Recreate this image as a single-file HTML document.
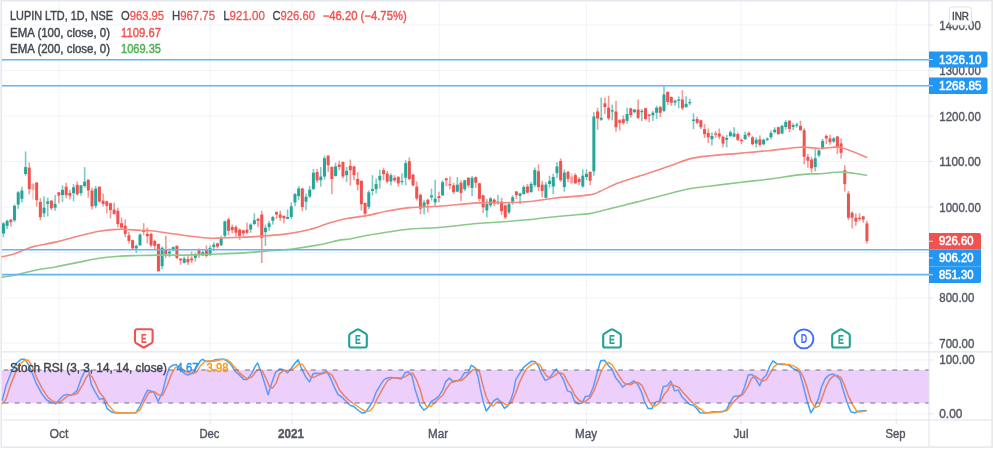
<!DOCTYPE html>
<html><head><meta charset="utf-8"><title>LUPIN LTD chart</title>
<style>
html,body{margin:0;padding:0;background:#fff;}
svg{display:block;will-change:transform;font-family:"Liberation Sans",sans-serif;}
text{font-family:"Liberation Sans",sans-serif;}
</style></head><body>
<svg width="995" height="452" viewBox="0 0 995 452">
<defs><filter id="soft" filterUnits="userSpaceOnUse" x="-5" y="-5" width="1005" height="462"><feGaussianBlur stdDeviation="0.42"/></filter></defs>
<rect x="0" y="0" width="995" height="452" fill="#ffffff"/>
<g filter="url(#soft)">
<rect x="-5" y="-5" width="1005" height="462" fill="#ffffff"/>

<rect x="1.2" y="0.8" width="990.9" height="446.3" fill="none" stroke="#e4e7ef" stroke-width="1.5"/>
<line x1="59.0" y1="1" x2="59.0" y2="420" stroke="#f1f3fa" stroke-width="1"/>
<line x1="59.0" y1="420" x2="59.0" y2="424" stroke="#e0e3eb" stroke-width="1"/>
<line x1="210.0" y1="1" x2="210.0" y2="420" stroke="#f1f3fa" stroke-width="1"/>
<line x1="210.0" y1="420" x2="210.0" y2="424" stroke="#e0e3eb" stroke-width="1"/>
<line x1="292.0" y1="1" x2="292.0" y2="420" stroke="#f1f3fa" stroke-width="1"/>
<line x1="292.0" y1="420" x2="292.0" y2="424" stroke="#e0e3eb" stroke-width="1"/>
<line x1="439.2" y1="1" x2="439.2" y2="420" stroke="#f1f3fa" stroke-width="1"/>
<line x1="439.2" y1="420" x2="439.2" y2="424" stroke="#e0e3eb" stroke-width="1"/>
<line x1="586.5" y1="1" x2="586.5" y2="420" stroke="#f1f3fa" stroke-width="1"/>
<line x1="586.5" y1="420" x2="586.5" y2="424" stroke="#e0e3eb" stroke-width="1"/>
<line x1="741.1" y1="1" x2="741.1" y2="420" stroke="#f1f3fa" stroke-width="1"/>
<line x1="741.1" y1="420" x2="741.1" y2="424" stroke="#e0e3eb" stroke-width="1"/>
<line x1="896.2" y1="1" x2="896.2" y2="420" stroke="#f1f3fa" stroke-width="1"/>
<line x1="896.2" y1="420" x2="896.2" y2="424" stroke="#e0e3eb" stroke-width="1"/>
<line x1="2" y1="25.0" x2="929" y2="25.0" stroke="#f1f3fa" stroke-width="1"/>
<line x1="929" y1="25.0" x2="933" y2="25.0" stroke="#e0e3eb" stroke-width="1"/>
<line x1="2" y1="70.5" x2="929" y2="70.5" stroke="#f1f3fa" stroke-width="1"/>
<line x1="929" y1="70.5" x2="933" y2="70.5" stroke="#e0e3eb" stroke-width="1"/>
<line x1="2" y1="116.0" x2="929" y2="116.0" stroke="#f1f3fa" stroke-width="1"/>
<line x1="929" y1="116.0" x2="933" y2="116.0" stroke="#e0e3eb" stroke-width="1"/>
<line x1="2" y1="161.5" x2="929" y2="161.5" stroke="#f1f3fa" stroke-width="1"/>
<line x1="929" y1="161.5" x2="933" y2="161.5" stroke="#e0e3eb" stroke-width="1"/>
<line x1="2" y1="207.0" x2="929" y2="207.0" stroke="#f1f3fa" stroke-width="1"/>
<line x1="929" y1="207.0" x2="933" y2="207.0" stroke="#e0e3eb" stroke-width="1"/>
<line x1="2" y1="252.5" x2="929" y2="252.5" stroke="#f1f3fa" stroke-width="1"/>
<line x1="929" y1="252.5" x2="933" y2="252.5" stroke="#e0e3eb" stroke-width="1"/>
<line x1="2" y1="298.0" x2="929" y2="298.0" stroke="#f1f3fa" stroke-width="1"/>
<line x1="929" y1="298.0" x2="933" y2="298.0" stroke="#e0e3eb" stroke-width="1"/>
<line x1="2" y1="343.0" x2="929" y2="343.0" stroke="#f1f3fa" stroke-width="1"/>
<line x1="929" y1="343.0" x2="933" y2="343.0" stroke="#e0e3eb" stroke-width="1"/>
<line x1="2" y1="359.90000000000003" x2="929" y2="359.90000000000003" stroke="#f1f3fa" stroke-width="1"/>
<line x1="929" y1="359.90000000000003" x2="933" y2="359.90000000000003" stroke="#e0e3eb" stroke-width="1"/>
<line x1="2" y1="413.90000000000003" x2="929" y2="413.90000000000003" stroke="#f1f3fa" stroke-width="1"/>
<line x1="929" y1="413.90000000000003" x2="933" y2="413.90000000000003" stroke="#e0e3eb" stroke-width="1"/>
<defs><clipPath id="cin"><rect x="0" y="370" width="995" height="33"/></clipPath><clipPath id="cout"><rect x="0" y="352" width="995" height="18"/><rect x="0" y="403" width="995" height="20"/></clipPath></defs>
<g clip-path="url(#cout)"><path d="M2.3,400.0 L6.0,385.7 L11.3,372.1 L16.6,363.0 L21.1,359.3 L24.9,359.3 L28.6,364.6 L32.4,373.6 L36.2,383.4 L41.5,393.2 L46.7,400.0 L51.3,402.2 L55.8,403.8 L59.6,399.2 L63.3,395.5 L67.1,394.4 L70.9,395.5 L76.9,390.9 L81.4,378.1 L85.2,370.6 L88.9,371.3 L91.2,384.2 L95.0,391.7 L99.5,399.2 L103.3,398.5 L107.0,408.3 L111.6,412.0 L116.1,413.1 L135.7,412.8 L138.7,408.3 L140.0,406.0 L143.8,397.7 L147.5,390.2 L153.6,391.7 L158.1,401.5 L162.6,391.7 L166.4,376.6 L169.4,367.6 L172.4,365.3 L176.2,364.6 L180.0,369.1 L183.7,372.8 L187.5,375.1 L192.0,373.6 L196.5,367.6 L200.3,360.8 L202.6,359.3 L206.3,361.5 L210.9,361.5 L215.4,359.7 L219.9,359.3 L224.4,359.3 L228.9,362.3 L232.0,366.1 L235.0,371.3 L239.5,375.1 L244.0,379.6 L247.0,379.6 L251.6,373.6 L255.3,366.1 L257.6,363.0 L260.6,370.6 L264.4,382.6 L268.1,394.7 L271.9,382.6 L275.7,372.1 L279.5,369.1 L280.0,369.1 L283.8,369.8 L287.5,372.8 L291.3,368.3 L295.1,363.0 L298.1,359.7 L301.1,367.6 L305.6,376.6 L309.4,381.9 L313.2,373.6 L316.9,373.3 L320.7,373.6 L326.7,371.3 L330.5,378.1 L334.3,387.2 L338.0,394.7 L341.8,397.0 L346.3,401.5 L350.1,405.3 L353.9,406.5 L358.4,410.5 L362.2,413.1 L365.2,412.5 L368.9,407.5 L372.7,401.5 L375.7,393.2 L379.5,386.4 L384.0,379.6 L387.8,377.8 L391.6,377.4 L396.1,378.1 L401.4,378.9 L405.1,372.8 L408.1,371.8 L411.9,375.9 L414.9,388.7 L418.7,400.7 L420.0,405.3 L423.8,410.1 L427.5,407.5 L431.3,401.5 L435.1,399.2 L438.8,396.2 L442.6,390.2 L445.6,381.9 L449.4,378.1 L453.2,381.9 L456.9,381.1 L460.7,378.9 L464.5,372.8 L468.2,372.8 L471.3,365.3 L475.0,367.6 L478.0,376.6 L480.3,388.7 L483.3,402.2 L486.3,411.0 L490.1,406.0 L493.9,400.7 L497.6,398.5 L500.7,402.2 L504.4,408.3 L508.2,405.3 L510.5,400.7 L513.5,391.7 L515.7,379.6 L519.5,373.6 L523.3,367.6 L527.0,364.6 L531.6,361.2 L535.3,361.8 L538.3,366.1 L541.4,373.6 L545.1,380.4 L548.9,378.9 L552.7,373.6 L556.4,369.1 L559.5,373.6 L560.0,373.6 L563.8,380.4 L567.5,390.9 L571.3,392.4 L574.3,400.7 L578.1,403.8 L581.9,403.0 L585.6,396.2 L589.4,396.2 L593.2,387.2 L596.9,373.6 L600.7,360.8 L604.5,360.3 L608.2,365.3 L612.0,369.1 L615.8,378.1 L619.6,382.6 L622.6,387.2 L626.3,384.2 L630.1,383.4 L633.9,380.8 L637.6,384.2 L641.4,391.7 L644.4,401.5 L648.2,408.6 L652.0,408.6 L655.7,401.9 L659.5,401.0 L663.3,386.4 L667.0,386.0 L670.8,381.1 L674.6,390.9 L678.3,389.9 L682.1,397.0 L685.9,400.7 L689.7,404.5 L693.4,405.3 L697.2,409.0 L700.0,412.8 L704.5,413.1 L709.0,412.5 L713.6,411.7 L718.1,411.7 L722.6,411.6 L726.4,409.8 L730.2,402.2 L733.9,396.2 L737.7,396.2 L741.5,394.7 L744.5,387.2 L748.2,375.1 L752.0,374.4 L755.8,378.9 L759.6,385.7 L762.6,378.9 L766.3,375.1 L770.1,365.3 L773.1,360.8 L776.9,363.8 L780.7,364.6 L784.4,364.6 L788.2,364.9 L792.0,367.6 L795.7,369.8 L799.5,372.1 L803.3,385.7 L807.0,400.7 L810.8,412.8 L814.6,406.8 L818.3,399.2 L821.4,387.2 L825.1,378.9 L828.9,375.1 L832.7,373.9 L836.4,375.9 L840.2,379.6 L843.2,390.2 L847.0,402.2 L850.0,409.8 L851.1,412.0 L854.8,412.8 L858.6,411.3 L862.4,410.7 L866.1,410.5" fill="none" stroke="#3ba2fa" stroke-width="1.5" stroke-linejoin="round" stroke-linecap="round" opacity="1"/><path d="M2.3,403.8 L6.0,399.2 L10.6,384.9 L15.1,373.6 L20.4,363.8 L24.9,360.0 L28.6,360.3 L32.4,366.8 L36.2,376.6 L42.2,388.7 L48.2,397.7 L53.5,401.5 L58.0,403.0 L61.8,400.7 L65.6,397.7 L69.4,395.0 L73.9,394.7 L77.6,393.2 L82.2,385.7 L86.7,376.6 L88.9,374.4 L92.0,376.6 L96.5,385.7 L99.5,392.4 L104.0,397.7 L108.5,405.3 L114.6,412.0 L120.6,413.1 L135.7,412.8 L139.5,410.1 L140.0,409.8 L144.5,400.7 L149.0,392.4 L154.3,391.7 L158.1,394.7 L162.6,395.5 L167.1,385.7 L171.7,373.6 L175.4,367.6 L179.2,366.8 L183.7,369.8 L188.2,372.8 L192.8,373.6 L196.5,372.1 L200.3,366.1 L204.8,361.5 L209.4,360.8 L213.9,361.2 L218.4,360.3 L222.9,359.3 L226.7,359.7 L230.5,362.3 L234.2,366.8 L238.7,372.1 L244.0,376.6 L247.8,378.9 L252.3,376.6 L256.1,371.3 L259.1,369.1 L262.1,370.6 L266.6,379.6 L269.7,387.2 L272.7,387.9 L276.4,382.6 L279.5,373.6 L280.0,373.6 L283.8,370.3 L287.5,370.6 L291.3,369.8 L295.1,367.6 L298.8,363.8 L302.6,364.6 L306.4,370.6 L310.2,376.6 L313.9,377.4 L318.4,375.1 L323.0,373.6 L327.5,372.4 L332.0,375.1 L335.8,381.9 L339.6,390.2 L344.1,395.5 L348.6,400.0 L352.4,403.0 L356.9,406.0 L361.4,409.0 L365.9,411.6 L369.7,411.0 L373.5,406.8 L376.5,400.0 L380.3,393.2 L384.0,386.4 L387.8,380.4 L392.3,378.1 L396.8,377.8 L401.4,378.1 L405.1,376.9 L409.7,373.6 L412.7,373.3 L416.4,379.6 L419.5,387.9 L420.0,388.7 L423.0,400.7 L426.8,406.8 L431.3,406.0 L435.1,402.2 L438.8,398.5 L442.6,395.5 L446.4,388.7 L450.2,383.4 L453.9,380.8 L457.7,380.8 L461.5,380.4 L465.2,377.4 L469.0,373.6 L472.8,369.8 L476.5,369.1 L479.6,372.1 L482.6,384.2 L486.3,397.0 L490.1,404.5 L493.1,406.0 L496.9,402.2 L500.7,401.5 L504.4,403.8 L508.2,405.3 L512.0,401.5 L515.7,393.2 L519.5,382.6 L523.3,374.4 L527.0,368.3 L531.6,364.6 L536.1,363.0 L539.9,364.6 L542.9,370.6 L546.6,375.9 L550.4,378.1 L554.2,375.9 L557.9,372.8 L560.0,372.8 L563.8,374.4 L567.5,381.9 L571.3,387.9 L575.1,395.5 L578.8,400.0 L582.6,402.5 L586.4,400.7 L590.2,397.7 L593.9,390.9 L597.7,381.1 L601.5,370.6 L605.2,364.6 L608.2,362.3 L612.0,364.6 L615.8,370.6 L619.6,376.6 L623.3,382.3 L627.1,384.6 L630.9,384.6 L634.6,382.6 L638.4,382.6 L642.2,385.7 L645.9,394.0 L649.7,402.2 L652.7,406.5 L656.5,405.3 L660.3,402.2 L664.0,394.7 L667.8,390.2 L670.8,384.2 L674.6,385.7 L679.1,387.5 L682.9,392.4 L686.6,396.2 L691.2,401.5 L695.7,405.3 L699.5,409.0 L700.0,408.3 L703.8,412.0 L708.3,413.1 L712.8,412.5 L717.3,412.0 L722.6,411.7 L727.1,410.5 L730.9,405.3 L734.7,400.7 L738.4,397.4 L743.0,394.4 L747.5,387.2 L751.3,378.9 L755.0,375.9 L758.8,378.9 L762.6,381.1 L766.3,379.6 L770.1,373.6 L773.9,366.8 L777.6,363.8 L781.4,363.8 L785.9,364.3 L789.7,364.6 L794.2,366.1 L798.7,369.1 L803.3,376.6 L807.0,387.2 L810.8,400.7 L815.3,407.5 L819.1,406.0 L822.1,397.7 L825.9,387.2 L829.7,379.6 L833.4,375.9 L837.2,375.4 L841.0,377.4 L844.7,385.7 L848.5,396.2 L852.6,404.5 L856.3,410.5 L858.6,412.0 L862.4,411.6 L866.1,411.0" fill="none" stroke="#ff9932" stroke-width="1.5" stroke-linejoin="round" stroke-linecap="round" opacity="1"/></g>
<rect x="2" y="370" width="927" height="33" fill="#ecd0fb"/>
<g clip-path="url(#cin)"><path d="M2.3,400.0 L6.0,385.7 L11.3,372.1 L16.6,363.0 L21.1,359.3 L24.9,359.3 L28.6,364.6 L32.4,373.6 L36.2,383.4 L41.5,393.2 L46.7,400.0 L51.3,402.2 L55.8,403.8 L59.6,399.2 L63.3,395.5 L67.1,394.4 L70.9,395.5 L76.9,390.9 L81.4,378.1 L85.2,370.6 L88.9,371.3 L91.2,384.2 L95.0,391.7 L99.5,399.2 L103.3,398.5 L107.0,408.3 L111.6,412.0 L116.1,413.1 L135.7,412.8 L138.7,408.3 L140.0,406.0 L143.8,397.7 L147.5,390.2 L153.6,391.7 L158.1,401.5 L162.6,391.7 L166.4,376.6 L169.4,367.6 L172.4,365.3 L176.2,364.6 L180.0,369.1 L183.7,372.8 L187.5,375.1 L192.0,373.6 L196.5,367.6 L200.3,360.8 L202.6,359.3 L206.3,361.5 L210.9,361.5 L215.4,359.7 L219.9,359.3 L224.4,359.3 L228.9,362.3 L232.0,366.1 L235.0,371.3 L239.5,375.1 L244.0,379.6 L247.0,379.6 L251.6,373.6 L255.3,366.1 L257.6,363.0 L260.6,370.6 L264.4,382.6 L268.1,394.7 L271.9,382.6 L275.7,372.1 L279.5,369.1 L280.0,369.1 L283.8,369.8 L287.5,372.8 L291.3,368.3 L295.1,363.0 L298.1,359.7 L301.1,367.6 L305.6,376.6 L309.4,381.9 L313.2,373.6 L316.9,373.3 L320.7,373.6 L326.7,371.3 L330.5,378.1 L334.3,387.2 L338.0,394.7 L341.8,397.0 L346.3,401.5 L350.1,405.3 L353.9,406.5 L358.4,410.5 L362.2,413.1 L365.2,412.5 L368.9,407.5 L372.7,401.5 L375.7,393.2 L379.5,386.4 L384.0,379.6 L387.8,377.8 L391.6,377.4 L396.1,378.1 L401.4,378.9 L405.1,372.8 L408.1,371.8 L411.9,375.9 L414.9,388.7 L418.7,400.7 L420.0,405.3 L423.8,410.1 L427.5,407.5 L431.3,401.5 L435.1,399.2 L438.8,396.2 L442.6,390.2 L445.6,381.9 L449.4,378.1 L453.2,381.9 L456.9,381.1 L460.7,378.9 L464.5,372.8 L468.2,372.8 L471.3,365.3 L475.0,367.6 L478.0,376.6 L480.3,388.7 L483.3,402.2 L486.3,411.0 L490.1,406.0 L493.9,400.7 L497.6,398.5 L500.7,402.2 L504.4,408.3 L508.2,405.3 L510.5,400.7 L513.5,391.7 L515.7,379.6 L519.5,373.6 L523.3,367.6 L527.0,364.6 L531.6,361.2 L535.3,361.8 L538.3,366.1 L541.4,373.6 L545.1,380.4 L548.9,378.9 L552.7,373.6 L556.4,369.1 L559.5,373.6 L560.0,373.6 L563.8,380.4 L567.5,390.9 L571.3,392.4 L574.3,400.7 L578.1,403.8 L581.9,403.0 L585.6,396.2 L589.4,396.2 L593.2,387.2 L596.9,373.6 L600.7,360.8 L604.5,360.3 L608.2,365.3 L612.0,369.1 L615.8,378.1 L619.6,382.6 L622.6,387.2 L626.3,384.2 L630.1,383.4 L633.9,380.8 L637.6,384.2 L641.4,391.7 L644.4,401.5 L648.2,408.6 L652.0,408.6 L655.7,401.9 L659.5,401.0 L663.3,386.4 L667.0,386.0 L670.8,381.1 L674.6,390.9 L678.3,389.9 L682.1,397.0 L685.9,400.7 L689.7,404.5 L693.4,405.3 L697.2,409.0 L700.0,412.8 L704.5,413.1 L709.0,412.5 L713.6,411.7 L718.1,411.7 L722.6,411.6 L726.4,409.8 L730.2,402.2 L733.9,396.2 L737.7,396.2 L741.5,394.7 L744.5,387.2 L748.2,375.1 L752.0,374.4 L755.8,378.9 L759.6,385.7 L762.6,378.9 L766.3,375.1 L770.1,365.3 L773.1,360.8 L776.9,363.8 L780.7,364.6 L784.4,364.6 L788.2,364.9 L792.0,367.6 L795.7,369.8 L799.5,372.1 L803.3,385.7 L807.0,400.7 L810.8,412.8 L814.6,406.8 L818.3,399.2 L821.4,387.2 L825.1,378.9 L828.9,375.1 L832.7,373.9 L836.4,375.9 L840.2,379.6 L843.2,390.2 L847.0,402.2 L850.0,409.8 L851.1,412.0 L854.8,412.8 L858.6,411.3 L862.4,410.7 L866.1,410.5" fill="none" stroke="#6397fb" stroke-width="1.5" stroke-linejoin="round" stroke-linecap="round" opacity="1"/><path d="M2.3,403.8 L6.0,399.2 L10.6,384.9 L15.1,373.6 L20.4,363.8 L24.9,360.0 L28.6,360.3 L32.4,366.8 L36.2,376.6 L42.2,388.7 L48.2,397.7 L53.5,401.5 L58.0,403.0 L61.8,400.7 L65.6,397.7 L69.4,395.0 L73.9,394.7 L77.6,393.2 L82.2,385.7 L86.7,376.6 L88.9,374.4 L92.0,376.6 L96.5,385.7 L99.5,392.4 L104.0,397.7 L108.5,405.3 L114.6,412.0 L120.6,413.1 L135.7,412.8 L139.5,410.1 L140.0,409.8 L144.5,400.7 L149.0,392.4 L154.3,391.7 L158.1,394.7 L162.6,395.5 L167.1,385.7 L171.7,373.6 L175.4,367.6 L179.2,366.8 L183.7,369.8 L188.2,372.8 L192.8,373.6 L196.5,372.1 L200.3,366.1 L204.8,361.5 L209.4,360.8 L213.9,361.2 L218.4,360.3 L222.9,359.3 L226.7,359.7 L230.5,362.3 L234.2,366.8 L238.7,372.1 L244.0,376.6 L247.8,378.9 L252.3,376.6 L256.1,371.3 L259.1,369.1 L262.1,370.6 L266.6,379.6 L269.7,387.2 L272.7,387.9 L276.4,382.6 L279.5,373.6 L280.0,373.6 L283.8,370.3 L287.5,370.6 L291.3,369.8 L295.1,367.6 L298.8,363.8 L302.6,364.6 L306.4,370.6 L310.2,376.6 L313.9,377.4 L318.4,375.1 L323.0,373.6 L327.5,372.4 L332.0,375.1 L335.8,381.9 L339.6,390.2 L344.1,395.5 L348.6,400.0 L352.4,403.0 L356.9,406.0 L361.4,409.0 L365.9,411.6 L369.7,411.0 L373.5,406.8 L376.5,400.0 L380.3,393.2 L384.0,386.4 L387.8,380.4 L392.3,378.1 L396.8,377.8 L401.4,378.1 L405.1,376.9 L409.7,373.6 L412.7,373.3 L416.4,379.6 L419.5,387.9 L420.0,388.7 L423.0,400.7 L426.8,406.8 L431.3,406.0 L435.1,402.2 L438.8,398.5 L442.6,395.5 L446.4,388.7 L450.2,383.4 L453.9,380.8 L457.7,380.8 L461.5,380.4 L465.2,377.4 L469.0,373.6 L472.8,369.8 L476.5,369.1 L479.6,372.1 L482.6,384.2 L486.3,397.0 L490.1,404.5 L493.1,406.0 L496.9,402.2 L500.7,401.5 L504.4,403.8 L508.2,405.3 L512.0,401.5 L515.7,393.2 L519.5,382.6 L523.3,374.4 L527.0,368.3 L531.6,364.6 L536.1,363.0 L539.9,364.6 L542.9,370.6 L546.6,375.9 L550.4,378.1 L554.2,375.9 L557.9,372.8 L560.0,372.8 L563.8,374.4 L567.5,381.9 L571.3,387.9 L575.1,395.5 L578.8,400.0 L582.6,402.5 L586.4,400.7 L590.2,397.7 L593.9,390.9 L597.7,381.1 L601.5,370.6 L605.2,364.6 L608.2,362.3 L612.0,364.6 L615.8,370.6 L619.6,376.6 L623.3,382.3 L627.1,384.6 L630.9,384.6 L634.6,382.6 L638.4,382.6 L642.2,385.7 L645.9,394.0 L649.7,402.2 L652.7,406.5 L656.5,405.3 L660.3,402.2 L664.0,394.7 L667.8,390.2 L670.8,384.2 L674.6,385.7 L679.1,387.5 L682.9,392.4 L686.6,396.2 L691.2,401.5 L695.7,405.3 L699.5,409.0 L700.0,408.3 L703.8,412.0 L708.3,413.1 L712.8,412.5 L717.3,412.0 L722.6,411.7 L727.1,410.5 L730.9,405.3 L734.7,400.7 L738.4,397.4 L743.0,394.4 L747.5,387.2 L751.3,378.9 L755.0,375.9 L758.8,378.9 L762.6,381.1 L766.3,379.6 L770.1,373.6 L773.9,366.8 L777.6,363.8 L781.4,363.8 L785.9,364.3 L789.7,364.6 L794.2,366.1 L798.7,369.1 L803.3,376.6 L807.0,387.2 L810.8,400.7 L815.3,407.5 L819.1,406.0 L822.1,397.7 L825.9,387.2 L829.7,379.6 L833.4,375.9 L837.2,375.4 L841.0,377.4 L844.7,385.7 L848.5,396.2 L852.6,404.5 L856.3,410.5 L858.6,412.0 L862.4,411.6 L866.1,411.0" fill="none" stroke="#e9806c" stroke-width="1.5" stroke-linejoin="round" stroke-linecap="round" opacity="1"/></g>
<line x1="3.7" y1="370" x2="929" y2="370" stroke="#6e717b" stroke-width="1.15" stroke-dasharray="4.9,6.07"/>
<line x1="3.7" y1="403" x2="929" y2="403" stroke="#6e717b" stroke-width="1.15" stroke-dasharray="4.9,6.07"/>
<g opacity="1"><rect x="2.65" y="222.2" width="1.6" height="15.1" fill="#26a69a" opacity="0.6"/><rect x="1.95" y="223.4" width="3" height="10.1" fill="#26a69a"/></g>
<g opacity="1"><rect x="6.34" y="219.6" width="1.6" height="9.5" fill="#26a69a" opacity="0.6"/><rect x="5.64" y="220.9" width="3" height="5.0" fill="#26a69a"/></g>
<g opacity="1"><rect x="10.03" y="219.0" width="1.6" height="7.6" fill="#ef5350" opacity="0.6"/><rect x="9.33" y="219.6" width="3" height="2.5" fill="#ef5350"/></g>
<g opacity="1"><rect x="13.72" y="204.5" width="1.6" height="17.7" fill="#26a69a" opacity="0.6"/><rect x="13.02" y="205.8" width="3" height="14.5" fill="#26a69a"/></g>
<g opacity="1"><rect x="17.41" y="191.1" width="1.6" height="17.8" fill="#26a69a" opacity="0.6"/><rect x="16.71" y="192.3" width="3" height="12.2" fill="#26a69a"/></g>
<g opacity="1"><rect x="21.10" y="186.7" width="1.6" height="15.9" fill="#26a69a" opacity="0.6"/><rect x="20.40" y="190.5" width="3" height="8.4" fill="#26a69a"/></g>
<g opacity="1"><rect x="24.79" y="151.4" width="1.6" height="24.2" fill="#26a69a" opacity="0.6"/><rect x="24.09" y="167.1" width="3" height="6.9" fill="#26a69a"/></g>
<g opacity="1"><rect x="28.48" y="162.5" width="1.6" height="31.8" fill="#ef5350" opacity="0.6"/><rect x="27.78" y="167.7" width="3" height="21.4" fill="#ef5350"/></g>
<g opacity="0.55"><rect x="32.17" y="182.9" width="1.6" height="16.6" fill="#ef5350" opacity="0.6"/><rect x="31.47" y="184.1" width="3" height="5.7" fill="#ef5350"/></g>
<g opacity="1"><rect x="35.86" y="182.3" width="1.6" height="24.1" fill="#ef5350" opacity="0.6"/><rect x="35.16" y="182.5" width="3" height="17.6" fill="#ef5350"/></g>
<g opacity="1"><rect x="39.55" y="198.2" width="1.6" height="22.1" fill="#ef5350" opacity="0.6"/><rect x="38.85" y="202.0" width="3" height="15.1" fill="#ef5350"/></g>
<g opacity="1"><rect x="43.24" y="196.3" width="1.6" height="20.8" fill="#26a69a" opacity="0.6"/><rect x="42.54" y="207.7" width="3" height="5.7" fill="#26a69a"/></g>
<g opacity="1"><rect x="46.93" y="197.6" width="1.6" height="18.9" fill="#26a69a" opacity="0.6"/><rect x="46.23" y="201.4" width="3" height="2.5" fill="#26a69a"/></g>
<g opacity="1"><rect x="50.62" y="200.1" width="1.6" height="10.1" fill="#ef5350" opacity="0.6"/><rect x="49.92" y="200.7" width="3" height="7.6" fill="#ef5350"/></g>
<g opacity="1"><rect x="54.31" y="195.0" width="1.6" height="15.8" fill="#26a69a" opacity="0.6"/><rect x="53.61" y="203.9" width="3" height="3.8" fill="#26a69a"/></g>
<g opacity="1"><rect x="58.00" y="192.0" width="1.6" height="11.3" fill="#ef5350" opacity="0.6"/><rect x="57.30" y="192.3" width="3" height="3.2" fill="#ef5350"/></g>
<g opacity="1"><rect x="61.69" y="185.4" width="1.6" height="16.6" fill="#26a69a" opacity="0.6"/><rect x="60.99" y="189.8" width="3" height="5.2" fill="#26a69a"/></g>
<g opacity="1"><rect x="65.38" y="182.9" width="1.6" height="15.3" fill="#ef5350" opacity="0.6"/><rect x="64.68" y="186.7" width="3" height="8.4" fill="#ef5350"/></g>
<g opacity="1"><rect x="69.07" y="189.8" width="1.6" height="9.6" fill="#ef5350" opacity="0.6"/><rect x="68.37" y="193.0" width="3" height="2.7" fill="#ef5350"/></g>
<g opacity="1"><rect x="72.76" y="184.1" width="1.6" height="17.2" fill="#26a69a" opacity="0.6"/><rect x="72.06" y="187.3" width="3" height="5.9" fill="#26a69a"/></g>
<g opacity="1"><rect x="76.45" y="181.6" width="1.6" height="14.1" fill="#ef5350" opacity="0.6"/><rect x="75.75" y="184.8" width="3" height="9.5" fill="#ef5350"/></g>
<g opacity="1"><rect x="80.14" y="184.8" width="1.6" height="10.9" fill="#26a69a" opacity="0.6"/><rect x="79.44" y="185.4" width="3" height="7.6" fill="#26a69a"/></g>
<g opacity="1"><rect x="83.83" y="167.1" width="1.6" height="20.6" fill="#26a69a" opacity="0.6"/><rect x="83.13" y="181.6" width="3" height="4.4" fill="#26a69a"/></g>
<g opacity="1"><rect x="87.52" y="179.4" width="1.6" height="18.2" fill="#ef5350" opacity="0.6"/><rect x="86.82" y="179.7" width="3" height="10.7" fill="#ef5350"/></g>
<g opacity="1"><rect x="91.21" y="187.9" width="1.6" height="21.6" fill="#ef5350" opacity="0.6"/><rect x="90.51" y="190.5" width="3" height="15.9" fill="#ef5350"/></g>
<g opacity="1"><rect x="94.90" y="186.0" width="1.6" height="22.3" fill="#26a69a" opacity="0.6"/><rect x="94.20" y="188.6" width="3" height="17.2" fill="#26a69a"/></g>
<g opacity="1"><rect x="98.59" y="186.4" width="1.6" height="16.8" fill="#ef5350" opacity="0.6"/><rect x="97.89" y="186.7" width="3" height="14.7" fill="#ef5350"/></g>
<g opacity="1"><rect x="102.28" y="193.6" width="1.6" height="12.8" fill="#ef5350" opacity="0.6"/><rect x="101.58" y="200.7" width="3" height="3.2" fill="#ef5350"/></g>
<g opacity="1"><rect x="105.97" y="200.7" width="1.6" height="12.6" fill="#ef5350" opacity="0.6"/><rect x="105.27" y="201.4" width="3" height="4.4" fill="#ef5350"/></g>
<g opacity="1"><rect x="109.66" y="202.6" width="1.6" height="15.8" fill="#ef5350" opacity="0.6"/><rect x="108.96" y="203.2" width="3" height="6.9" fill="#ef5350"/></g>
<g opacity="1"><rect x="113.35" y="202.6" width="1.6" height="12.0" fill="#ef5350" opacity="0.6"/><rect x="112.65" y="209.6" width="3" height="4.4" fill="#ef5350"/></g>
<g opacity="1"><rect x="117.04" y="207.7" width="1.6" height="19.6" fill="#ef5350" opacity="0.6"/><rect x="116.34" y="210.8" width="3" height="13.2" fill="#ef5350"/></g>
<g opacity="1"><rect x="120.73" y="217.5" width="1.6" height="11.4" fill="#ef5350" opacity="0.6"/><rect x="120.03" y="223.2" width="3" height="4.4" fill="#ef5350"/></g>
<g opacity="1"><rect x="124.42" y="219.4" width="1.6" height="17.7" fill="#ef5350" opacity="0.6"/><rect x="123.72" y="225.7" width="3" height="8.2" fill="#ef5350"/></g>
<g opacity="1"><rect x="128.11" y="232.0" width="1.6" height="11.4" fill="#ef5350" opacity="0.6"/><rect x="127.41" y="235.2" width="3" height="5.7" fill="#ef5350"/></g>
<g opacity="1"><rect x="131.80" y="239.6" width="1.6" height="10.1" fill="#ef5350" opacity="0.6"/><rect x="131.10" y="240.2" width="3" height="8.2" fill="#ef5350"/></g>
<g opacity="1"><rect x="135.49" y="244.6" width="1.6" height="8.2" fill="#26a69a" opacity="0.6"/><rect x="134.79" y="245.9" width="3" height="2.5" fill="#26a69a"/></g>
<g opacity="1"><rect x="139.18" y="233.3" width="1.6" height="12.6" fill="#26a69a" opacity="0.6"/><rect x="138.48" y="234.6" width="3" height="10.7" fill="#26a69a"/></g>
<g opacity="1"><rect x="142.87" y="223.2" width="1.6" height="12.0" fill="#ef5350" opacity="0.6"/><rect x="142.17" y="230.1" width="3" height="1.9" fill="#ef5350"/></g>
<g opacity="1"><rect x="146.56" y="227.6" width="1.6" height="15.8" fill="#ef5350" opacity="0.6"/><rect x="145.86" y="233.9" width="3" height="2.3" fill="#ef5350"/></g>
<g opacity="1"><rect x="150.25" y="232.7" width="1.6" height="14.5" fill="#ef5350" opacity="0.6"/><rect x="149.55" y="233.9" width="3" height="11.4" fill="#ef5350"/></g>
<g opacity="1"><rect x="153.94" y="239.6" width="1.6" height="9.5" fill="#ef5350" opacity="0.6"/><rect x="153.24" y="240.9" width="3" height="5.0" fill="#ef5350"/></g>
<g opacity="1"><rect x="157.63" y="243.4" width="1.6" height="28.4" fill="#ef5350" opacity="0.6"/><rect x="156.93" y="244.0" width="3" height="27.1" fill="#ef5350"/></g>
<g opacity="1"><rect x="161.32" y="246.5" width="1.6" height="22.7" fill="#26a69a" opacity="0.6"/><rect x="160.62" y="247.8" width="3" height="18.3" fill="#26a69a"/></g>
<g opacity="1"><rect x="165.01" y="235.8" width="1.6" height="22.1" fill="#ef5350" opacity="0.6"/><rect x="164.31" y="249.1" width="3" height="5.0" fill="#ef5350"/></g>
<g opacity="1"><rect x="168.70" y="248.4" width="1.6" height="8.8" fill="#26a69a" opacity="0.6"/><rect x="168.00" y="251.6" width="3" height="1.9" fill="#26a69a"/></g>
<g opacity="1"><rect x="172.39" y="246.5" width="1.6" height="4.4" fill="#26a69a" opacity="0.6"/><rect x="171.69" y="247.2" width="3" height="3.2" fill="#26a69a"/></g>
<g opacity="1"><rect x="176.08" y="245.3" width="1.6" height="13.9" fill="#ef5350" opacity="0.6"/><rect x="175.38" y="245.9" width="3" height="12.0" fill="#ef5350"/></g>
<g opacity="1"><rect x="179.77" y="258.5" width="1.6" height="6.3" fill="#ef5350" opacity="0.6"/><rect x="179.07" y="258.6" width="3" height="1.8" fill="#ef5350"/></g>
<g opacity="1"><rect x="183.46" y="256.6" width="1.6" height="6.9" fill="#26a69a" opacity="0.6"/><rect x="182.76" y="258.5" width="3" height="4.4" fill="#26a69a"/></g>
<g opacity="1"><rect x="187.15" y="255.4" width="1.6" height="9.5" fill="#ef5350" opacity="0.6"/><rect x="186.45" y="259.1" width="3" height="3.2" fill="#ef5350"/></g>
<g opacity="1"><rect x="190.84" y="251.6" width="1.6" height="11.4" fill="#ef5350" opacity="0.6"/><rect x="190.14" y="258.5" width="3" height="1.9" fill="#ef5350"/></g>
<g opacity="1"><rect x="194.53" y="252.8" width="1.6" height="8.8" fill="#26a69a" opacity="0.6"/><rect x="193.83" y="254.7" width="3" height="3.2" fill="#26a69a"/></g>
<g opacity="1"><rect x="198.22" y="248.4" width="1.6" height="9.5" fill="#ef5350" opacity="0.6"/><rect x="197.52" y="250.3" width="3" height="4.4" fill="#ef5350"/></g>
<g opacity="1"><rect x="201.91" y="250.3" width="1.6" height="5.7" fill="#26a69a" opacity="0.6"/><rect x="201.21" y="252.2" width="3" height="3.2" fill="#26a69a"/></g>
<g opacity="1"><rect x="205.60" y="245.3" width="1.6" height="12.0" fill="#ef5350" opacity="0.6"/><rect x="204.90" y="250.3" width="3" height="5.7" fill="#ef5350"/></g>
<g opacity="1"><rect x="209.29" y="245.3" width="1.6" height="10.7" fill="#26a69a" opacity="0.6"/><rect x="208.59" y="247.8" width="3" height="6.9" fill="#26a69a"/></g>
<g opacity="1"><rect x="212.98" y="242.1" width="1.6" height="8.8" fill="#26a69a" opacity="0.6"/><rect x="212.28" y="244.6" width="3" height="2.5" fill="#26a69a"/></g>
<g opacity="1"><rect x="216.67" y="242.7" width="1.6" height="5.7" fill="#ef5350" opacity="0.6"/><rect x="215.97" y="243.4" width="3" height="3.2" fill="#ef5350"/></g>
<g opacity="1"><rect x="220.36" y="235.8" width="1.6" height="10.1" fill="#26a69a" opacity="0.6"/><rect x="219.66" y="238.3" width="3" height="6.9" fill="#26a69a"/></g>
<g opacity="1"><rect x="224.05" y="220.7" width="1.6" height="17.0" fill="#26a69a" opacity="0.6"/><rect x="223.35" y="221.3" width="3" height="14.5" fill="#26a69a"/></g>
<g opacity="1"><rect x="227.74" y="217.5" width="1.6" height="17.7" fill="#ef5350" opacity="0.6"/><rect x="227.04" y="219.4" width="3" height="11.4" fill="#ef5350"/></g>
<g opacity="1"><rect x="231.43" y="224.5" width="1.6" height="8.8" fill="#ef5350" opacity="0.6"/><rect x="230.73" y="227.0" width="3" height="3.2" fill="#ef5350"/></g>
<g opacity="1"><rect x="235.12" y="225.1" width="1.6" height="11.4" fill="#ef5350" opacity="0.6"/><rect x="234.42" y="227.0" width="3" height="5.7" fill="#ef5350"/></g>
<g opacity="1"><rect x="238.81" y="228.4" width="1.6" height="11.4" fill="#ef5350" opacity="0.6"/><rect x="238.11" y="229.6" width="3" height="6.3" fill="#ef5350"/></g>
<g opacity="1"><rect x="242.50" y="229.6" width="1.6" height="6.9" fill="#ef5350" opacity="0.6"/><rect x="241.80" y="230.3" width="3" height="3.2" fill="#ef5350"/></g>
<g opacity="1"><rect x="246.19" y="222.7" width="1.6" height="11.4" fill="#ef5350" opacity="0.6"/><rect x="245.49" y="229.6" width="3" height="3.2" fill="#ef5350"/></g>
<g opacity="1"><rect x="249.88" y="223.3" width="1.6" height="9.5" fill="#26a69a" opacity="0.6"/><rect x="249.18" y="224.6" width="3" height="5.0" fill="#26a69a"/></g>
<g opacity="1"><rect x="253.57" y="213.2" width="1.6" height="12.0" fill="#26a69a" opacity="0.6"/><rect x="252.87" y="220.2" width="3" height="3.8" fill="#26a69a"/></g>
<g opacity="1"><rect x="257.26" y="217.7" width="1.6" height="9.5" fill="#ef5350" opacity="0.6"/><rect x="256.56" y="218.9" width="3" height="1.9" fill="#ef5350"/></g>
<g opacity="1"><rect x="260.95" y="210.7" width="1.6" height="52.3" fill="#ef5350" opacity="0.6"/><rect x="260.25" y="214.5" width="3" height="23.3" fill="#ef5350"/></g>
<g opacity="1"><rect x="264.64" y="224.6" width="1.6" height="21.4" fill="#26a69a" opacity="0.6"/><rect x="263.94" y="227.7" width="3" height="4.4" fill="#26a69a"/></g>
<g opacity="1"><rect x="268.33" y="220.8" width="1.6" height="10.1" fill="#26a69a" opacity="0.6"/><rect x="267.63" y="223.3" width="3" height="3.8" fill="#26a69a"/></g>
<g opacity="1"><rect x="272.02" y="215.8" width="1.6" height="8.8" fill="#26a69a" opacity="0.6"/><rect x="271.32" y="217.0" width="3" height="3.8" fill="#26a69a"/></g>
<g opacity="1"><rect x="275.71" y="211.4" width="1.6" height="7.6" fill="#ef5350" opacity="0.6"/><rect x="275.01" y="212.0" width="3" height="2.5" fill="#ef5350"/></g>
<g opacity="1"><rect x="279.40" y="210.7" width="1.6" height="10.1" fill="#ef5350" opacity="0.6"/><rect x="278.70" y="214.5" width="3" height="3.2" fill="#ef5350"/></g>
<g opacity="1"><rect x="283.09" y="215.5" width="1.6" height="7.8" fill="#ef5350" opacity="0.6"/><rect x="282.39" y="215.8" width="3" height="2.5" fill="#ef5350"/></g>
<g opacity="1"><rect x="286.78" y="209.5" width="1.6" height="9.7" fill="#26a69a" opacity="0.6"/><rect x="286.08" y="217.0" width="3" height="1.9" fill="#26a69a"/></g>
<g opacity="1"><rect x="290.47" y="202.5" width="1.6" height="16.4" fill="#26a69a" opacity="0.6"/><rect x="289.77" y="206.3" width="3" height="10.7" fill="#26a69a"/></g>
<g opacity="1"><rect x="294.16" y="192.9" width="1.6" height="13.4" fill="#26a69a" opacity="0.6"/><rect x="293.46" y="194.1" width="3" height="8.4" fill="#26a69a"/></g>
<g opacity="1"><rect x="297.85" y="185.9" width="1.6" height="13.9" fill="#26a69a" opacity="0.6"/><rect x="297.15" y="188.5" width="3" height="7.6" fill="#26a69a"/></g>
<g opacity="1"><rect x="301.54" y="187.8" width="1.6" height="23.5" fill="#ef5350" opacity="0.6"/><rect x="300.84" y="188.5" width="3" height="18.5" fill="#ef5350"/></g>
<g opacity="1"><rect x="305.23" y="193.5" width="1.6" height="16.6" fill="#26a69a" opacity="0.6"/><rect x="304.53" y="196.7" width="3" height="5.0" fill="#26a69a"/></g>
<g opacity="1"><rect x="308.92" y="185.9" width="1.6" height="12.0" fill="#26a69a" opacity="0.6"/><rect x="308.22" y="189.7" width="3" height="6.9" fill="#26a69a"/></g>
<g opacity="1"><rect x="312.61" y="168.9" width="1.6" height="20.8" fill="#26a69a" opacity="0.6"/><rect x="311.91" y="172.7" width="3" height="16.4" fill="#26a69a"/></g>
<g opacity="1"><rect x="316.30" y="168.9" width="1.6" height="13.9" fill="#ef5350" opacity="0.6"/><rect x="315.60" y="172.1" width="3" height="8.2" fill="#ef5350"/></g>
<g opacity="1"><rect x="319.99" y="167.0" width="1.6" height="19.6" fill="#26a69a" opacity="0.6"/><rect x="319.29" y="176.5" width="3" height="3.8" fill="#26a69a"/></g>
<g opacity="1"><rect x="323.68" y="155.7" width="1.6" height="24.0" fill="#26a69a" opacity="0.6"/><rect x="322.98" y="158.2" width="3" height="18.3" fill="#26a69a"/></g>
<g opacity="1"><rect x="327.37" y="155.0" width="1.6" height="17.0" fill="#ef5350" opacity="0.6"/><rect x="326.67" y="155.7" width="3" height="9.5" fill="#ef5350"/></g>
<g opacity="1"><rect x="331.06" y="166.4" width="1.6" height="27.7" fill="#ef5350" opacity="0.6"/><rect x="330.36" y="167.0" width="3" height="12.0" fill="#ef5350"/></g>
<g opacity="1"><rect x="334.75" y="162.6" width="1.6" height="13.9" fill="#26a69a" opacity="0.6"/><rect x="334.05" y="166.4" width="3" height="9.5" fill="#26a69a"/></g>
<g opacity="1"><rect x="338.44" y="160.7" width="1.6" height="9.5" fill="#ef5350" opacity="0.6"/><rect x="337.74" y="164.5" width="3" height="2.5" fill="#ef5350"/></g>
<g opacity="1"><rect x="342.13" y="161.4" width="1.6" height="17.0" fill="#ef5350" opacity="0.6"/><rect x="341.43" y="162.0" width="3" height="14.5" fill="#ef5350"/></g>
<g opacity="1"><rect x="345.82" y="167.0" width="1.6" height="15.1" fill="#26a69a" opacity="0.6"/><rect x="345.12" y="170.8" width="3" height="4.4" fill="#26a69a"/></g>
<g opacity="1"><rect x="349.51" y="159.5" width="1.6" height="25.9" fill="#ef5350" opacity="0.6"/><rect x="348.81" y="165.8" width="3" height="4.4" fill="#ef5350"/></g>
<g opacity="1"><rect x="353.20" y="165.8" width="1.6" height="14.5" fill="#ef5350" opacity="0.6"/><rect x="352.50" y="166.4" width="3" height="8.8" fill="#ef5350"/></g>
<g opacity="1"><rect x="356.89" y="172.1" width="1.6" height="18.3" fill="#ef5350" opacity="0.6"/><rect x="356.19" y="179.0" width="3" height="5.7" fill="#ef5350"/></g>
<g opacity="1"><rect x="360.58" y="180.3" width="1.6" height="30.3" fill="#ef5350" opacity="0.6"/><rect x="359.88" y="180.9" width="3" height="23.3" fill="#ef5350"/></g>
<g opacity="1"><rect x="364.27" y="202.4" width="1.6" height="14.5" fill="#ef5350" opacity="0.6"/><rect x="363.57" y="203.0" width="3" height="10.7" fill="#ef5350"/></g>
<g opacity="1"><rect x="367.96" y="190.4" width="1.6" height="18.9" fill="#26a69a" opacity="0.6"/><rect x="367.26" y="192.3" width="3" height="14.5" fill="#26a69a"/></g>
<g opacity="1"><rect x="371.65" y="175.2" width="1.6" height="20.2" fill="#26a69a" opacity="0.6"/><rect x="370.95" y="189.1" width="3" height="1.9" fill="#26a69a"/></g>
<g opacity="1"><rect x="375.34" y="178.4" width="1.6" height="15.1" fill="#26a69a" opacity="0.6"/><rect x="374.64" y="184.1" width="3" height="5.0" fill="#26a69a"/></g>
<g opacity="1"><rect x="379.03" y="169.6" width="1.6" height="18.9" fill="#26a69a" opacity="0.6"/><rect x="378.33" y="175.9" width="3" height="4.4" fill="#26a69a"/></g>
<g opacity="1"><rect x="382.72" y="167.7" width="1.6" height="12.6" fill="#ef5350" opacity="0.6"/><rect x="382.02" y="170.2" width="3" height="3.8" fill="#ef5350"/></g>
<g opacity="1"><rect x="386.41" y="170.8" width="1.6" height="12.6" fill="#ef5350" opacity="0.6"/><rect x="385.71" y="173.4" width="3" height="8.2" fill="#ef5350"/></g>
<g opacity="1"><rect x="390.10" y="173.4" width="1.6" height="12.0" fill="#26a69a" opacity="0.6"/><rect x="389.40" y="175.2" width="3" height="6.3" fill="#26a69a"/></g>
<g opacity="1"><rect x="393.79" y="175.2" width="1.6" height="6.9" fill="#ef5350" opacity="0.6"/><rect x="393.09" y="177.8" width="3" height="2.5" fill="#ef5350"/></g>
<g opacity="1"><rect x="397.48" y="175.9" width="1.6" height="10.7" fill="#ef5350" opacity="0.6"/><rect x="396.78" y="177.1" width="3" height="6.3" fill="#ef5350"/></g>
<g opacity="1"><rect x="401.17" y="173.4" width="1.6" height="11.4" fill="#26a69a" opacity="0.6"/><rect x="400.47" y="180.9" width="3" height="1.3" fill="#26a69a"/></g>
<g opacity="1"><rect x="404.86" y="160.2" width="1.6" height="25.1" fill="#26a69a" opacity="0.6"/><rect x="404.16" y="163.1" width="3" height="14.6" fill="#26a69a"/></g>
<g opacity="1"><rect x="408.55" y="157.5" width="1.6" height="22.8" fill="#ef5350" opacity="0.6"/><rect x="407.85" y="161.2" width="3" height="17.8" fill="#ef5350"/></g>
<g opacity="1"><rect x="412.24" y="174.0" width="1.6" height="12.6" fill="#ef5350" opacity="0.6"/><rect x="411.54" y="174.6" width="3" height="10.7" fill="#ef5350"/></g>
<g opacity="1"><rect x="415.93" y="181.6" width="1.6" height="18.9" fill="#ef5350" opacity="0.6"/><rect x="415.23" y="186.6" width="3" height="12.0" fill="#ef5350"/></g>
<g opacity="1"><rect x="419.62" y="193.5" width="1.6" height="20.8" fill="#ef5350" opacity="0.6"/><rect x="418.92" y="194.8" width="3" height="13.9" fill="#ef5350"/></g>
<g opacity="1"><rect x="423.31" y="199.8" width="1.6" height="14.5" fill="#26a69a" opacity="0.6"/><rect x="422.61" y="202.4" width="3" height="4.4" fill="#26a69a"/></g>
<g opacity="1"><rect x="427.00" y="198.6" width="1.6" height="13.9" fill="#ef5350" opacity="0.6"/><rect x="426.30" y="199.8" width="3" height="4.4" fill="#ef5350"/></g>
<g opacity="1"><rect x="430.69" y="188.5" width="1.6" height="12.0" fill="#26a69a" opacity="0.6"/><rect x="429.99" y="195.4" width="3" height="1.9" fill="#26a69a"/></g>
<g opacity="1"><rect x="434.38" y="179.7" width="1.6" height="27.1" fill="#26a69a" opacity="0.6"/><rect x="433.68" y="198.6" width="3" height="3.8" fill="#26a69a"/></g>
<g opacity="1"><rect x="438.07" y="191.6" width="1.6" height="10.7" fill="#ef5350" opacity="0.6"/><rect x="437.37" y="196.1" width="3" height="1.9" fill="#ef5350"/></g>
<g opacity="1"><rect x="441.76" y="180.3" width="1.6" height="15.4" fill="#26a69a" opacity="0.6"/><rect x="441.06" y="182.2" width="3" height="13.2" fill="#26a69a"/></g>
<g opacity="1"><rect x="445.45" y="177.8" width="1.6" height="8.2" fill="#ef5350" opacity="0.6"/><rect x="444.75" y="178.4" width="3" height="1.9" fill="#ef5350"/></g>
<g opacity="1"><rect x="449.14" y="176.5" width="1.6" height="12.6" fill="#ef5350" opacity="0.6"/><rect x="448.44" y="184.1" width="3" height="1.3" fill="#ef5350"/></g>
<g opacity="1"><rect x="452.83" y="182.8" width="1.6" height="11.4" fill="#ef5350" opacity="0.6"/><rect x="452.13" y="185.3" width="3" height="6.9" fill="#ef5350"/></g>
<g opacity="1"><rect x="456.52" y="177.1" width="1.6" height="15.1" fill="#26a69a" opacity="0.6"/><rect x="455.82" y="184.7" width="3" height="6.9" fill="#26a69a"/></g>
<g opacity="1"><rect x="460.21" y="180.3" width="1.6" height="20.8" fill="#ef5350" opacity="0.6"/><rect x="459.51" y="182.8" width="3" height="10.1" fill="#ef5350"/></g>
<g opacity="1"><rect x="463.90" y="179.7" width="1.6" height="11.4" fill="#26a69a" opacity="0.6"/><rect x="463.20" y="180.3" width="3" height="8.8" fill="#26a69a"/></g>
<g opacity="1"><rect x="467.59" y="177.1" width="1.6" height="10.7" fill="#ef5350" opacity="0.6"/><rect x="466.89" y="177.8" width="3" height="7.6" fill="#ef5350"/></g>
<g opacity="1"><rect x="471.28" y="175.9" width="1.6" height="20.2" fill="#26a69a" opacity="0.6"/><rect x="470.58" y="177.8" width="3" height="10.1" fill="#26a69a"/></g>
<g opacity="1"><rect x="474.97" y="176.5" width="1.6" height="11.4" fill="#ef5350" opacity="0.6"/><rect x="474.27" y="177.1" width="3" height="5.7" fill="#ef5350"/></g>
<g opacity="1"><rect x="478.66" y="182.7" width="1.6" height="18.9" fill="#ef5350" opacity="0.6"/><rect x="477.96" y="183.3" width="3" height="15.5" fill="#ef5350"/></g>
<g opacity="1"><rect x="482.35" y="194.6" width="1.6" height="18.3" fill="#ef5350" opacity="0.6"/><rect x="481.65" y="195.3" width="3" height="12.0" fill="#ef5350"/></g>
<g opacity="1"><rect x="486.04" y="199.1" width="1.6" height="18.3" fill="#26a69a" opacity="0.6"/><rect x="485.34" y="204.1" width="3" height="6.3" fill="#26a69a"/></g>
<g opacity="1"><rect x="489.73" y="197.2" width="1.6" height="10.1" fill="#26a69a" opacity="0.6"/><rect x="489.03" y="198.4" width="3" height="6.9" fill="#26a69a"/></g>
<g opacity="1"><rect x="493.42" y="198.4" width="1.6" height="7.6" fill="#ef5350" opacity="0.6"/><rect x="492.72" y="199.7" width="3" height="3.8" fill="#ef5350"/></g>
<g opacity="1"><rect x="497.11" y="194.6" width="1.6" height="10.1" fill="#26a69a" opacity="0.6"/><rect x="496.41" y="201.6" width="3" height="1.3" fill="#26a69a"/></g>
<g opacity="1"><rect x="500.80" y="197.8" width="1.6" height="17.0" fill="#ef5350" opacity="0.6"/><rect x="500.10" y="201.6" width="3" height="9.5" fill="#ef5350"/></g>
<g opacity="1"><rect x="504.49" y="204.7" width="1.6" height="14.5" fill="#ef5350" opacity="0.6"/><rect x="503.79" y="205.4" width="3" height="12.0" fill="#ef5350"/></g>
<g opacity="1"><rect x="508.18" y="202.8" width="1.6" height="11.4" fill="#26a69a" opacity="0.6"/><rect x="507.48" y="204.1" width="3" height="8.2" fill="#26a69a"/></g>
<g opacity="1"><rect x="511.87" y="195.3" width="1.6" height="9.5" fill="#26a69a" opacity="0.6"/><rect x="511.17" y="197.2" width="3" height="4.4" fill="#26a69a"/></g>
<g opacity="1"><rect x="515.56" y="190.9" width="1.6" height="8.2" fill="#ef5350" opacity="0.6"/><rect x="514.86" y="191.5" width="3" height="3.8" fill="#ef5350"/></g>
<g opacity="1"><rect x="519.25" y="192.7" width="1.6" height="11.4" fill="#26a69a" opacity="0.6"/><rect x="518.55" y="193.4" width="3" height="2.5" fill="#26a69a"/></g>
<g opacity="1"><rect x="522.94" y="185.2" width="1.6" height="9.5" fill="#26a69a" opacity="0.6"/><rect x="522.24" y="187.1" width="3" height="6.9" fill="#26a69a"/></g>
<g opacity="1"><rect x="526.63" y="183.9" width="1.6" height="9.5" fill="#ef5350" opacity="0.6"/><rect x="525.93" y="186.4" width="3" height="6.3" fill="#ef5350"/></g>
<g opacity="1"><rect x="530.32" y="182.0" width="1.6" height="10.7" fill="#26a69a" opacity="0.6"/><rect x="529.62" y="183.9" width="3" height="8.2" fill="#26a69a"/></g>
<g opacity="1"><rect x="534.01" y="167.5" width="1.6" height="19.6" fill="#26a69a" opacity="0.6"/><rect x="533.31" y="170.0" width="3" height="15.1" fill="#26a69a"/></g>
<g opacity="1"><rect x="537.70" y="164.4" width="1.6" height="26.5" fill="#ef5350" opacity="0.6"/><rect x="537.00" y="171.3" width="3" height="15.8" fill="#ef5350"/></g>
<g opacity="1"><rect x="541.39" y="180.8" width="1.6" height="16.4" fill="#ef5350" opacity="0.6"/><rect x="540.69" y="184.6" width="3" height="6.3" fill="#ef5350"/></g>
<g opacity="1"><rect x="545.08" y="182.0" width="1.6" height="16.4" fill="#26a69a" opacity="0.6"/><rect x="544.38" y="184.6" width="3" height="13.2" fill="#26a69a"/></g>
<g opacity="1"><rect x="548.77" y="175.7" width="1.6" height="12.0" fill="#26a69a" opacity="0.6"/><rect x="548.07" y="180.8" width="3" height="3.2" fill="#26a69a"/></g>
<g opacity="1"><rect x="552.46" y="173.8" width="1.6" height="20.2" fill="#26a69a" opacity="0.6"/><rect x="551.76" y="177.0" width="3" height="9.5" fill="#26a69a"/></g>
<g opacity="1"><rect x="556.15" y="162.1" width="1.6" height="16.1" fill="#26a69a" opacity="0.6"/><rect x="555.45" y="166.5" width="3" height="6.7" fill="#26a69a"/></g>
<g opacity="1"><rect x="559.84" y="158.4" width="1.6" height="23.6" fill="#ef5350" opacity="0.6"/><rect x="559.14" y="161.0" width="3" height="19.2" fill="#ef5350"/></g>
<g opacity="1"><rect x="563.53" y="169.4" width="1.6" height="22.1" fill="#26a69a" opacity="0.6"/><rect x="562.83" y="172.6" width="3" height="14.5" fill="#26a69a"/></g>
<g opacity="1"><rect x="567.22" y="170.7" width="1.6" height="11.4" fill="#ef5350" opacity="0.6"/><rect x="566.52" y="171.9" width="3" height="6.9" fill="#ef5350"/></g>
<g opacity="0.55"><rect x="570.91" y="173.2" width="1.6" height="10.7" fill="#ef5350" opacity="0.6"/><rect x="570.21" y="176.4" width="3" height="6.9" fill="#ef5350"/></g>
<g opacity="1"><rect x="574.60" y="173.2" width="1.6" height="10.7" fill="#ef5350" opacity="0.6"/><rect x="573.90" y="175.1" width="3" height="8.2" fill="#ef5350"/></g>
<g opacity="1"><rect x="578.29" y="177.0" width="1.6" height="8.2" fill="#ef5350" opacity="0.6"/><rect x="577.59" y="178.9" width="3" height="3.2" fill="#ef5350"/></g>
<g opacity="1"><rect x="581.98" y="169.4" width="1.6" height="18.3" fill="#26a69a" opacity="0.6"/><rect x="581.28" y="175.7" width="3" height="10.7" fill="#26a69a"/></g>
<g opacity="1"><rect x="585.67" y="169.4" width="1.6" height="10.7" fill="#26a69a" opacity="0.6"/><rect x="584.97" y="173.8" width="3" height="3.2" fill="#26a69a"/></g>
<g opacity="1"><rect x="589.36" y="171.3" width="1.6" height="13.9" fill="#ef5350" opacity="0.6"/><rect x="588.66" y="171.9" width="3" height="8.8" fill="#ef5350"/></g>
<g opacity="1"><rect x="593.05" y="112.1" width="1.6" height="63.6" fill="#26a69a" opacity="0.6"/><rect x="592.35" y="116.5" width="3" height="54.8" fill="#26a69a"/></g>
<g opacity="1"><rect x="596.74" y="107.7" width="1.6" height="22.1" fill="#ef5350" opacity="0.6"/><rect x="596.04" y="111.5" width="3" height="6.9" fill="#ef5350"/></g>
<g opacity="1"><rect x="600.43" y="97.6" width="1.6" height="23.3" fill="#26a69a" opacity="0.6"/><rect x="599.73" y="117.8" width="3" height="1.9" fill="#26a69a"/></g>
<g opacity="1"><rect x="604.12" y="97.6" width="1.6" height="16.4" fill="#ef5350" opacity="0.6"/><rect x="603.42" y="103.3" width="3" height="3.8" fill="#ef5350"/></g>
<g opacity="1"><rect x="607.81" y="95.7" width="1.6" height="24.6" fill="#ef5350" opacity="0.6"/><rect x="607.11" y="107.7" width="3" height="10.7" fill="#ef5350"/></g>
<g opacity="1"><rect x="611.50" y="104.6" width="1.6" height="15.8" fill="#26a69a" opacity="0.6"/><rect x="610.80" y="110.2" width="3" height="1.3" fill="#26a69a"/></g>
<g opacity="1"><rect x="615.19" y="100.8" width="1.6" height="30.9" fill="#ef5350" opacity="0.6"/><rect x="614.49" y="111.5" width="3" height="15.8" fill="#ef5350"/></g>
<g opacity="1"><rect x="618.88" y="119.1" width="1.6" height="11.4" fill="#ef5350" opacity="0.6"/><rect x="618.18" y="120.3" width="3" height="2.5" fill="#ef5350"/></g>
<g opacity="1"><rect x="622.57" y="115.3" width="1.6" height="9.5" fill="#ef5350" opacity="0.6"/><rect x="621.87" y="119.1" width="3" height="3.8" fill="#ef5350"/></g>
<g opacity="1"><rect x="626.26" y="107.7" width="1.6" height="15.8" fill="#26a69a" opacity="0.6"/><rect x="625.56" y="114.0" width="3" height="6.9" fill="#26a69a"/></g>
<g opacity="1"><rect x="629.95" y="107.7" width="1.6" height="10.1" fill="#ef5350" opacity="0.6"/><rect x="629.25" y="108.3" width="3" height="6.9" fill="#ef5350"/></g>
<g opacity="1"><rect x="633.64" y="109.0" width="1.6" height="4.4" fill="#26a69a" opacity="0.6"/><rect x="632.94" y="109.6" width="3" height="2.5" fill="#26a69a"/></g>
<g opacity="1"><rect x="637.33" y="99.5" width="1.6" height="19.6" fill="#ef5350" opacity="0.6"/><rect x="636.63" y="109.6" width="3" height="8.2" fill="#ef5350"/></g>
<g opacity="1"><rect x="641.02" y="109.0" width="1.6" height="12.0" fill="#26a69a" opacity="0.6"/><rect x="640.32" y="110.9" width="3" height="1.3" fill="#26a69a"/></g>
<g opacity="1"><rect x="644.71" y="107.7" width="1.6" height="12.6" fill="#ef5350" opacity="0.6"/><rect x="644.01" y="108.3" width="3" height="10.7" fill="#ef5350"/></g>
<g opacity="1"><rect x="648.40" y="114.0" width="1.6" height="8.2" fill="#ef5350" opacity="0.6"/><rect x="647.70" y="114.6" width="3" height="1.3" fill="#ef5350"/></g>
<g opacity="1"><rect x="652.09" y="110.9" width="1.6" height="10.1" fill="#26a69a" opacity="0.6"/><rect x="651.39" y="112.7" width="3" height="2.5" fill="#26a69a"/></g>
<g opacity="1"><rect x="655.78" y="105.8" width="1.6" height="13.2" fill="#26a69a" opacity="0.6"/><rect x="655.08" y="107.7" width="3" height="5.0" fill="#26a69a"/></g>
<g opacity="1"><rect x="659.47" y="105.8" width="1.6" height="11.4" fill="#ef5350" opacity="0.6"/><rect x="658.77" y="107.1" width="3" height="5.7" fill="#ef5350"/></g>
<g opacity="1"><rect x="663.16" y="86.3" width="1.6" height="25.9" fill="#26a69a" opacity="0.6"/><rect x="662.46" y="94.5" width="3" height="16.4" fill="#26a69a"/></g>
<g opacity="1"><rect x="666.85" y="91.3" width="1.6" height="13.9" fill="#ef5350" opacity="0.6"/><rect x="666.15" y="91.9" width="3" height="10.1" fill="#ef5350"/></g>
<g opacity="1"><rect x="670.54" y="96.4" width="1.6" height="9.5" fill="#ef5350" opacity="0.6"/><rect x="669.84" y="97.0" width="3" height="5.7" fill="#ef5350"/></g>
<g opacity="1"><rect x="674.23" y="99.5" width="1.6" height="6.3" fill="#26a69a" opacity="0.6"/><rect x="673.53" y="100.7" width="3" height="1.9" fill="#26a69a"/></g>
<g opacity="1"><rect x="677.92" y="96.3" width="1.6" height="12.0" fill="#26a69a" opacity="0.6"/><rect x="677.22" y="99.5" width="3" height="1.3" fill="#26a69a"/></g>
<g opacity="1"><rect x="681.61" y="90.0" width="1.6" height="20.2" fill="#ef5350" opacity="0.6"/><rect x="680.91" y="99.5" width="3" height="8.8" fill="#ef5350"/></g>
<g opacity="1"><rect x="685.30" y="96.3" width="1.6" height="11.4" fill="#26a69a" opacity="0.6"/><rect x="684.60" y="103.9" width="3" height="3.2" fill="#26a69a"/></g>
<g opacity="1"><rect x="688.99" y="98.8" width="1.6" height="6.3" fill="#26a69a" opacity="0.6"/><rect x="688.29" y="102.0" width="3" height="1.3" fill="#26a69a"/></g>
<g opacity="1"><rect x="692.68" y="113.3" width="1.6" height="15.8" fill="#26a69a" opacity="0.6"/><rect x="691.98" y="119.6" width="3" height="1.3" fill="#26a69a"/></g>
<g opacity="1"><rect x="696.37" y="116.5" width="1.6" height="7.6" fill="#ef5350" opacity="0.6"/><rect x="695.67" y="119.0" width="3" height="3.8" fill="#ef5350"/></g>
<g opacity="1"><rect x="700.06" y="119.6" width="1.6" height="9.5" fill="#ef5350" opacity="0.6"/><rect x="699.36" y="120.3" width="3" height="6.9" fill="#ef5350"/></g>
<g opacity="1"><rect x="703.75" y="124.1" width="1.6" height="13.9" fill="#ef5350" opacity="0.6"/><rect x="703.05" y="129.1" width="3" height="5.0" fill="#ef5350"/></g>
<g opacity="1"><rect x="707.44" y="128.5" width="1.6" height="14.5" fill="#ef5350" opacity="0.6"/><rect x="706.74" y="132.9" width="3" height="4.4" fill="#ef5350"/></g>
<g opacity="1"><rect x="711.13" y="132.3" width="1.6" height="13.2" fill="#26a69a" opacity="0.6"/><rect x="710.43" y="136.0" width="3" height="3.2" fill="#26a69a"/></g>
<g opacity="1"><rect x="714.82" y="131.0" width="1.6" height="6.9" fill="#ef5350" opacity="0.6"/><rect x="714.12" y="133.5" width="3" height="1.3" fill="#ef5350"/></g>
<g opacity="1"><rect x="718.51" y="128.5" width="1.6" height="10.7" fill="#ef5350" opacity="0.6"/><rect x="717.81" y="133.5" width="3" height="3.2" fill="#ef5350"/></g>
<g opacity="1"><rect x="722.20" y="135.4" width="1.6" height="12.0" fill="#ef5350" opacity="0.6"/><rect x="721.50" y="136.7" width="3" height="6.9" fill="#ef5350"/></g>
<g opacity="1"><rect x="725.89" y="134.8" width="1.6" height="12.6" fill="#26a69a" opacity="0.6"/><rect x="725.19" y="137.9" width="3" height="1.9" fill="#26a69a"/></g>
<g opacity="1"><rect x="729.58" y="130.4" width="1.6" height="6.9" fill="#26a69a" opacity="0.6"/><rect x="728.88" y="132.3" width="3" height="3.8" fill="#26a69a"/></g>
<g opacity="1"><rect x="733.27" y="127.2" width="1.6" height="10.1" fill="#26a69a" opacity="0.6"/><rect x="732.57" y="133.5" width="3" height="3.2" fill="#26a69a"/></g>
<g opacity="1"><rect x="736.96" y="132.3" width="1.6" height="8.8" fill="#ef5350" opacity="0.6"/><rect x="736.26" y="134.1" width="3" height="5.7" fill="#ef5350"/></g>
<g opacity="1"><rect x="740.65" y="138.6" width="1.6" height="5.7" fill="#ef5350" opacity="0.6"/><rect x="739.95" y="139.8" width="3" height="1.3" fill="#ef5350"/></g>
<g opacity="1"><rect x="744.34" y="131.6" width="1.6" height="8.2" fill="#26a69a" opacity="0.6"/><rect x="743.64" y="134.8" width="3" height="4.4" fill="#26a69a"/></g>
<g opacity="1"><rect x="748.03" y="131.6" width="1.6" height="5.7" fill="#ef5350" opacity="0.6"/><rect x="747.33" y="132.9" width="3" height="2.5" fill="#ef5350"/></g>
<g opacity="1"><rect x="751.72" y="136.0" width="1.6" height="9.5" fill="#ef5350" opacity="0.6"/><rect x="751.02" y="137.3" width="3" height="6.9" fill="#ef5350"/></g>
<g opacity="1"><rect x="755.41" y="137.3" width="1.6" height="10.1" fill="#26a69a" opacity="0.6"/><rect x="754.71" y="139.8" width="3" height="3.8" fill="#26a69a"/></g>
<g opacity="1"><rect x="759.10" y="135.4" width="1.6" height="11.4" fill="#ef5350" opacity="0.6"/><rect x="758.40" y="139.2" width="3" height="5.7" fill="#ef5350"/></g>
<g opacity="1"><rect x="762.79" y="138.6" width="1.6" height="6.9" fill="#26a69a" opacity="0.6"/><rect x="762.09" y="139.8" width="3" height="4.4" fill="#26a69a"/></g>
<g opacity="1"><rect x="766.48" y="137.3" width="1.6" height="3.8" fill="#26a69a" opacity="0.6"/><rect x="765.78" y="138.6" width="3" height="1.3" fill="#26a69a"/></g>
<g opacity="1"><rect x="770.17" y="130.4" width="1.6" height="8.8" fill="#26a69a" opacity="0.6"/><rect x="769.47" y="132.9" width="3" height="4.4" fill="#26a69a"/></g>
<g opacity="1"><rect x="773.86" y="127.2" width="1.6" height="6.3" fill="#26a69a" opacity="0.6"/><rect x="773.16" y="129.7" width="3" height="2.5" fill="#26a69a"/></g>
<g opacity="1"><rect x="777.55" y="126.6" width="1.6" height="8.2" fill="#ef5350" opacity="0.6"/><rect x="776.85" y="127.2" width="3" height="6.9" fill="#ef5350"/></g>
<g opacity="1"><rect x="781.24" y="124.7" width="1.6" height="9.5" fill="#26a69a" opacity="0.6"/><rect x="780.54" y="125.9" width="3" height="7.6" fill="#26a69a"/></g>
<g opacity="1"><rect x="784.93" y="120.1" width="1.6" height="9.5" fill="#26a69a" opacity="0.6"/><rect x="784.23" y="122.0" width="3" height="5.0" fill="#26a69a"/></g>
<g opacity="1"><rect x="788.62" y="120.1" width="1.6" height="12.0" fill="#ef5350" opacity="0.6"/><rect x="787.92" y="120.7" width="3" height="8.2" fill="#ef5350"/></g>
<g opacity="1"><rect x="792.31" y="123.2" width="1.6" height="6.9" fill="#26a69a" opacity="0.6"/><rect x="791.61" y="125.1" width="3" height="1.9" fill="#26a69a"/></g>
<g opacity="1"><rect x="796.00" y="122.6" width="1.6" height="5.0" fill="#26a69a" opacity="0.6"/><rect x="795.30" y="124.5" width="3" height="1.3" fill="#26a69a"/></g>
<g opacity="1"><rect x="799.69" y="120.7" width="1.6" height="10.1" fill="#ef5350" opacity="0.6"/><rect x="798.99" y="125.8" width="3" height="4.4" fill="#ef5350"/></g>
<g opacity="1"><rect x="803.38" y="128.3" width="1.6" height="35.9" fill="#ef5350" opacity="0.6"/><rect x="802.68" y="130.2" width="3" height="26.5" fill="#ef5350"/></g>
<g opacity="1"><rect x="807.07" y="153.8" width="1.6" height="13.9" fill="#ef5350" opacity="0.6"/><rect x="806.37" y="156.9" width="3" height="3.8" fill="#ef5350"/></g>
<g opacity="1"><rect x="810.76" y="156.9" width="1.6" height="15.8" fill="#ef5350" opacity="0.6"/><rect x="810.06" y="159.5" width="3" height="8.8" fill="#ef5350"/></g>
<g opacity="1"><rect x="814.45" y="149.1" width="1.6" height="22.3" fill="#26a69a" opacity="0.6"/><rect x="813.75" y="158.2" width="3" height="8.8" fill="#26a69a"/></g>
<g opacity="1"><rect x="818.14" y="149.7" width="1.6" height="7.6" fill="#26a69a" opacity="0.6"/><rect x="817.44" y="150.4" width="3" height="5.0" fill="#26a69a"/></g>
<g opacity="1"><rect x="821.83" y="139.0" width="1.6" height="10.7" fill="#26a69a" opacity="0.6"/><rect x="821.13" y="140.9" width="3" height="6.9" fill="#26a69a"/></g>
<g opacity="1"><rect x="825.52" y="134.6" width="1.6" height="9.5" fill="#ef5350" opacity="0.6"/><rect x="824.82" y="135.9" width="3" height="2.5" fill="#ef5350"/></g>
<g opacity="1"><rect x="829.21" y="134.6" width="1.6" height="10.1" fill="#ef5350" opacity="0.6"/><rect x="828.51" y="138.4" width="3" height="3.8" fill="#ef5350"/></g>
<g opacity="1"><rect x="832.90" y="137.1" width="1.6" height="5.7" fill="#26a69a" opacity="0.6"/><rect x="832.20" y="138.4" width="3" height="3.2" fill="#26a69a"/></g>
<g opacity="1"><rect x="836.59" y="135.9" width="1.6" height="18.3" fill="#ef5350" opacity="0.6"/><rect x="835.89" y="136.5" width="3" height="11.4" fill="#ef5350"/></g>
<g opacity="1"><rect x="840.28" y="138.4" width="1.6" height="20.2" fill="#ef5350" opacity="0.6"/><rect x="839.58" y="143.4" width="3" height="9.5" fill="#ef5350"/></g>
<g opacity="1"><rect x="843.97" y="165.1" width="1.6" height="26.5" fill="#ef5350" opacity="0.6"/><rect x="843.27" y="170.2" width="3" height="13.9" fill="#ef5350"/></g>
<g opacity="1"><rect x="847.66" y="191.0" width="1.6" height="29.2" fill="#ef5350" opacity="0.6"/><rect x="846.96" y="193.5" width="3" height="24.2" fill="#ef5350"/></g>
<g opacity="1"><rect x="851.35" y="211.4" width="1.6" height="17.0" fill="#ef5350" opacity="0.6"/><rect x="850.65" y="212.7" width="3" height="5.0" fill="#ef5350"/></g>
<g opacity="1"><rect x="855.04" y="213.3" width="1.6" height="12.6" fill="#ef5350" opacity="0.6"/><rect x="854.34" y="217.7" width="3" height="3.8" fill="#ef5350"/></g>
<g opacity="1"><rect x="858.73" y="213.3" width="1.6" height="7.6" fill="#ef5350" opacity="0.6"/><rect x="858.03" y="217.7" width="3" height="1.3" fill="#ef5350"/></g>
<g opacity="1"><rect x="862.42" y="215.8" width="1.6" height="6.9" fill="#ef5350" opacity="0.6"/><rect x="861.72" y="216.4" width="3" height="3.2" fill="#ef5350"/></g>
<g opacity="1"><rect x="866.11" y="220.9" width="1.6" height="22.7" fill="#ef5350" opacity="0.6"/><rect x="865.41" y="223.4" width="3" height="17.7" fill="#ef5350"/></g>
<path d="M2.1,277.3 C4.1,276.9 8.6,276.4 14.2,275.2 C19.8,274.0 28.3,271.6 35.4,270.2 C42.5,268.8 49.5,268.0 56.6,266.7 C63.7,265.4 70.8,263.8 77.9,262.4 C85.0,261.0 92.0,259.2 99.1,258.2 C106.2,257.1 113.5,256.6 120.3,256.1 C127.1,255.7 133.8,255.7 140.0,255.5 C146.2,255.3 150.6,255.2 157.8,255.1 C165.0,255.0 174.6,255.2 183.0,255.1 C191.4,255.0 198.0,254.8 208.3,254.4 C218.6,254.0 235.5,253.5 245.0,252.9 C254.5,252.3 257.6,251.7 265.2,251.1 C272.8,250.5 282.1,250.1 290.5,249.2 C298.9,248.2 307.3,246.9 315.7,245.4 C324.1,243.9 335.2,241.0 340.9,239.9 C346.6,238.8 345.5,239.8 350.0,239.0 C354.5,238.2 362.1,236.4 368.1,235.3 C374.2,234.2 379.3,233.4 386.3,232.3 C393.3,231.2 401.1,229.8 409.9,229.0 C418.7,228.2 427.7,228.4 438.9,227.5 C450.1,226.6 466.1,224.4 477.0,223.5 C487.9,222.6 495.4,222.5 504.2,221.8 C513.0,221.2 523.5,220.2 530.0,219.6 C536.5,219.0 536.6,218.7 543.0,218.0 C549.4,217.3 560.5,216.2 568.3,215.5 C576.1,214.8 584.4,214.3 589.7,213.6 C595.0,212.9 595.3,212.3 600.0,211.2 C604.7,210.0 612.1,208.2 618.1,206.7 C624.1,205.2 630.2,203.6 636.3,202.1 C642.3,200.6 648.3,199.2 654.4,197.6 C660.5,196.0 666.5,194.2 672.6,192.7 C678.7,191.2 684.7,189.6 690.7,188.5 C696.8,187.4 700.4,187.2 708.9,186.2 C717.4,185.1 731.3,183.4 741.5,182.2 C751.7,181.0 760.0,180.3 770.0,179.0 C780.0,177.7 793.1,175.5 801.5,174.6 C809.9,173.7 813.5,174.1 820.5,173.7 C827.5,173.3 835.5,171.8 843.2,172.1 C850.9,172.3 862.6,174.7 866.5,175.2" fill="none" stroke="#89ca8c" stroke-width="1.6" stroke-linecap="round"/>
<path d="M2.1,256.8 C4.1,256.3 9.8,255.3 14.2,253.9 C18.6,252.5 24.8,249.6 28.3,248.3 C31.8,247.0 30.7,247.2 35.4,246.1 C40.1,245.0 49.5,243.6 56.6,241.9 C63.7,240.2 70.8,238.0 77.9,236.2 C85.0,234.4 93.2,232.4 99.1,231.3 C105.0,230.2 109.3,229.9 113.3,229.6 C117.3,229.3 118.8,229.2 123.2,229.3 C127.7,229.4 135.3,230.2 140.0,230.4 C144.7,230.7 144.3,230.0 151.5,230.8 C158.7,231.6 173.6,234.0 183.1,235.2 C192.6,236.4 202.0,237.5 208.3,238.0 C214.6,238.5 214.8,238.2 220.9,238.0 C227.0,237.8 237.6,237.4 245.0,237.1 C252.4,236.8 257.6,236.5 265.2,235.9 C272.8,235.3 283.1,234.5 290.5,233.4 C297.9,232.3 303.1,231.3 309.4,229.6 C315.7,227.9 322.0,225.2 328.3,223.3 C334.6,221.5 340.6,219.8 347.2,218.5 C353.8,217.2 361.6,216.6 368.1,215.4 C374.6,214.2 379.3,212.5 386.3,211.2 C393.3,209.9 401.1,208.4 409.9,207.6 C418.7,206.8 427.7,207.1 438.9,206.3 C450.1,205.5 466.1,203.5 477.0,202.9 C487.9,202.3 495.3,202.9 504.2,202.7 C513.1,202.5 521.9,202.3 530.5,201.5 C539.1,200.7 545.8,199.1 555.7,198.0 C565.6,196.9 582.3,196.0 589.7,194.9 C597.1,193.8 595.3,193.3 600.0,191.3 C604.7,189.3 612.1,185.5 618.1,183.1 C624.1,180.7 630.2,179.1 636.3,177.1 C642.3,175.1 648.3,173.3 654.4,171.3 C660.5,169.3 666.5,167.0 672.6,164.9 C678.7,162.8 684.7,160.1 690.7,158.6 C696.8,157.1 700.4,156.8 708.9,155.9 C717.4,155.0 731.3,154.0 741.5,153.1 C751.7,152.2 760.2,151.5 770.0,150.5 C779.8,149.5 791.9,147.5 800.3,147.2 C808.7,146.9 813.8,148.4 820.5,148.5 C827.2,148.6 832.9,146.0 840.6,147.5 C848.3,149.0 862.2,155.7 866.5,157.3" fill="none" stroke="#f58880" stroke-width="1.6" stroke-linecap="round"/>
<line x1="2" y1="351.9" x2="992" y2="351.9" stroke="#e2e5ed" stroke-width="1.4"/>
<line x1="2" y1="420" x2="992" y2="420" stroke="#e0e3eb" stroke-width="1"/>
<line x1="929" y1="1" x2="929" y2="447" stroke="#e0e3eb" stroke-width="1"/>
<line x1="2" y1="59.8" x2="929" y2="59.8" stroke="#64b5f6" stroke-width="1.6"/>
<line x1="2" y1="85.7" x2="929" y2="85.7" stroke="#64b5f6" stroke-width="1.6"/>
<line x1="2" y1="249.7" x2="929" y2="249.7" stroke="#64b5f6" stroke-width="1.6"/>
<line x1="2" y1="274.6" x2="929" y2="274.6" stroke="#64b5f6" stroke-width="1.6"/>
<text x="939.3" y="29.7" font-size="12" fill="#555863" stroke="#555863" stroke-width="0.4" font-weight="normal" text-anchor="start" textLength="41.5" lengthAdjust="spacingAndGlyphs">1400.00</text>
<text x="939.3" y="75.2" font-size="12" fill="#555863" stroke="#555863" stroke-width="0.4" font-weight="normal" text-anchor="start" textLength="41.5" lengthAdjust="spacingAndGlyphs">1300.00</text>
<text x="939.3" y="120.6" font-size="12" fill="#555863" stroke="#555863" stroke-width="0.4" font-weight="normal" text-anchor="start" textLength="41.5" lengthAdjust="spacingAndGlyphs">1200.00</text>
<text x="939.3" y="166.1" font-size="12" fill="#555863" stroke="#555863" stroke-width="0.4" font-weight="normal" text-anchor="start" textLength="41.5" lengthAdjust="spacingAndGlyphs">1100.00</text>
<text x="939.3" y="211.5" font-size="12" fill="#555863" stroke="#555863" stroke-width="0.4" font-weight="normal" text-anchor="start" textLength="41.5" lengthAdjust="spacingAndGlyphs">1000.00</text>
<text x="939.3" y="302.4" font-size="12" fill="#555863" stroke="#555863" stroke-width="0.4" font-weight="normal" text-anchor="start" textLength="35" lengthAdjust="spacingAndGlyphs">800.00</text>
<text x="939.3" y="347.8" font-size="12" fill="#555863" stroke="#555863" stroke-width="0.4" font-weight="normal" text-anchor="start" textLength="35" lengthAdjust="spacingAndGlyphs">700.00</text>
<text x="939.3" y="363.7" font-size="12" fill="#555863" stroke="#555863" stroke-width="0.4" font-weight="normal" text-anchor="start" textLength="35.5" lengthAdjust="spacingAndGlyphs">100.00</text>
<text x="939.3" y="417.7" font-size="12" fill="#555863" stroke="#555863" stroke-width="0.4" font-weight="normal" text-anchor="start" textLength="23" lengthAdjust="spacingAndGlyphs">0.00</text>
<path d="M929,51.5 H985.5 a2,2 0 0 1 2,2 V65.5 a2,2 0 0 1 -2,2 H929 z" fill="#2196f3"/>
<line x1="929" y1="59.5" x2="933" y2="59.5" stroke="#fff" stroke-width="1" opacity="0.8"/>
<text x="939" y="63.7" font-size="12" fill="#fff" stroke="#fff" stroke-width="0.55" font-weight="normal" text-anchor="start" textLength="42.5" lengthAdjust="spacingAndGlyphs">1326.10</text>
<path d="M929,77.5 H985.5 a2,2 0 0 1 2,2 V92 a2,2 0 0 1 -2,2 H929 z" fill="#2196f3"/>
<line x1="929" y1="85.75" x2="933" y2="85.75" stroke="#fff" stroke-width="1" opacity="0.8"/>
<text x="939" y="89.95" font-size="12" fill="#fff" stroke="#fff" stroke-width="0.55" font-weight="normal" text-anchor="start" textLength="42.5" lengthAdjust="spacingAndGlyphs">1268.85</text>
<path d="M929,233 H979 a2,2 0 0 1 2,2 V249.49 a0.01,0.01 0 0 1 -0.01,0.01 H929 z" fill="#ef5350"/>
<line x1="929" y1="241.25" x2="933" y2="241.25" stroke="#fff" stroke-width="1" opacity="0.8"/>
<text x="939" y="245.45" font-size="12" fill="#fff" stroke="#fff" stroke-width="0.55" font-weight="normal" text-anchor="start" textLength="34.5" lengthAdjust="spacingAndGlyphs">926.60</text>
<path d="M929,249.5 H980.99 a0.01,0.01 0 0 1 0.01,0.01 V266.59000000000003 a0.01,0.01 0 0 1 -0.01,0.01 H929 z" fill="#2196f3"/>
<line x1="929" y1="258.05" x2="933" y2="258.05" stroke="#fff" stroke-width="1" opacity="0.8"/>
<text x="939" y="262.25" font-size="12" fill="#fff" stroke="#fff" stroke-width="0.55" font-weight="normal" text-anchor="start" textLength="34.5" lengthAdjust="spacingAndGlyphs">906.20</text>
<path d="M929,266.5 H980.99 a0.01,0.01 0 0 1 0.01,0.01 V281 a2,2 0 0 1 -2,2 H929 z" fill="#2196f3"/>
<line x1="929" y1="274.75" x2="933" y2="274.75" stroke="#fff" stroke-width="1" opacity="0.8"/>
<text x="939" y="278.95" font-size="12" fill="#fff" stroke="#fff" stroke-width="0.55" font-weight="normal" text-anchor="start" textLength="34.5" lengthAdjust="spacingAndGlyphs">851.30</text>
<rect x="949.5" y="7" width="22" height="18" rx="3" fill="#fff" stroke="#e0e3eb" stroke-width="1"/>
<text x="960.5" y="20.3" font-size="11.5" fill="#434651" stroke="#434651" stroke-width="0.4" font-weight="normal" text-anchor="middle" textLength="17" lengthAdjust="spacingAndGlyphs">INR</text>
<text x="59" y="437.6" font-size="12" fill="#555863" stroke="#555863" stroke-width="0.4" font-weight="normal" text-anchor="middle" textLength="19" lengthAdjust="spacingAndGlyphs">Oct</text>
<text x="209.5" y="437.6" font-size="12" fill="#555863" stroke="#555863" stroke-width="0.4" font-weight="normal" text-anchor="middle" textLength="20" lengthAdjust="spacingAndGlyphs">Dec</text>
<text x="291" y="437.6" font-size="12" fill="#555863" stroke="#555863" stroke-width="0.4" font-weight="bold" text-anchor="middle" textLength="26" lengthAdjust="spacingAndGlyphs">2021</text>
<text x="438" y="437.6" font-size="12" fill="#555863" stroke="#555863" stroke-width="0.4" font-weight="normal" text-anchor="middle" textLength="20" lengthAdjust="spacingAndGlyphs">Mar</text>
<text x="586" y="437.6" font-size="12" fill="#555863" stroke="#555863" stroke-width="0.4" font-weight="normal" text-anchor="middle" textLength="22" lengthAdjust="spacingAndGlyphs">May</text>
<text x="741" y="437.6" font-size="12" fill="#555863" stroke="#555863" stroke-width="0.4" font-weight="normal" text-anchor="middle" textLength="15" lengthAdjust="spacingAndGlyphs">Jul</text>
<text x="895.5" y="437.6" font-size="12" fill="#555863" stroke="#555863" stroke-width="0.4" font-weight="normal" text-anchor="middle" textLength="20" lengthAdjust="spacingAndGlyphs">Sep</text>
<text x="10" y="19.8" font-size="12" fill="#434651" stroke="#434651" stroke-width="0.4" font-weight="normal" text-anchor="start" textLength="103" lengthAdjust="spacingAndGlyphs">LUPIN LTD, 1D, NSE</text>
<text x="121" y="19.8" font-size="12" stroke-width="0.3" textLength="43" lengthAdjust="spacingAndGlyphs"><tspan fill="#434651" stroke="#434651">O</tspan><tspan fill="#ef5350" stroke="#ef5350">963.95</tspan></text>
<text x="172" y="19.8" font-size="12" stroke-width="0.3" textLength="43" lengthAdjust="spacingAndGlyphs"><tspan fill="#434651" stroke="#434651">H</tspan><tspan fill="#ef5350" stroke="#ef5350">967.75</tspan></text>
<text x="223.2" y="19.8" font-size="12" stroke-width="0.3" textLength="41.6" lengthAdjust="spacingAndGlyphs"><tspan fill="#434651" stroke="#434651">L</tspan><tspan fill="#ef5350" stroke="#ef5350">921.00</tspan></text>
<text x="272.5" y="19.8" font-size="12" stroke-width="0.3" textLength="42.5" lengthAdjust="spacingAndGlyphs"><tspan fill="#434651" stroke="#434651">C</tspan><tspan fill="#ef5350" stroke="#ef5350">926.60</tspan></text>
<text x="322.7" y="19.8" font-size="12" fill="#ef5350" stroke="#ef5350" stroke-width="0.4" font-weight="normal" text-anchor="start" textLength="84" lengthAdjust="spacingAndGlyphs">−46.20 (−4.75%)</text>
<text x="10" y="36.8" font-size="12" fill="#434651" stroke="#434651" stroke-width="0.4" font-weight="normal" text-anchor="start" textLength="100" lengthAdjust="spacingAndGlyphs">EMA (100, close, 0)</text>
<text x="121" y="36.8" font-size="12" fill="#ef5350" stroke="#ef5350" stroke-width="0.4" font-weight="normal" text-anchor="start" textLength="40" lengthAdjust="spacingAndGlyphs">1109.67</text>
<text x="10" y="53.2" font-size="12" fill="#434651" stroke="#434651" stroke-width="0.4" font-weight="normal" text-anchor="start" textLength="100" lengthAdjust="spacingAndGlyphs">EMA (200, close, 0)</text>
<text x="121" y="53.2" font-size="12" fill="#4caf50" stroke="#4caf50" stroke-width="0.4" font-weight="normal" text-anchor="start" textLength="40" lengthAdjust="spacingAndGlyphs">1069.35</text>
<text x="10" y="372" font-size="12" fill="#434651" stroke="#434651" stroke-width="0.4" font-weight="normal" text-anchor="start" textLength="157" lengthAdjust="spacingAndGlyphs">Stoch RSI (3, 3, 14, 14, close)</text>
<text x="176.5" y="372" font-size="12" fill="#2196f3" stroke="#2196f3" stroke-width="0.4" font-weight="normal" text-anchor="start" textLength="22" lengthAdjust="spacingAndGlyphs">4.67</text>
<text x="206.5" y="372" font-size="12" fill="#ff9800" stroke="#ff9800" stroke-width="0.4" font-weight="normal" text-anchor="start" textLength="22" lengthAdjust="spacingAndGlyphs">3.98</text>
<path d="M136.8,329.20000000000005 H150.8 A1.8,1.8 0 0 1 152.60000000000002,331.00000000000006 V341.1 Q152.60000000000002,342.40000000000003 151.5,343.1 L144.9,347.00000000000006 Q143.8,347.70000000000005 142.70000000000002,347.00000000000006 L136.10000000000002,343.1 Q135.0,342.40000000000003 135.0,341.1 V331.00000000000006 A1.8,1.8 0 0 1 136.8,329.20000000000005 Z" fill="#fff" stroke="#ef5350" stroke-width="2.1" stroke-linejoin="round"/>
<text x="143.8" y="342.7" font-size="12.3" fill="#ef5350" stroke="#ef5350" stroke-width="0.2" font-weight="bold" text-anchor="middle" textLength="5.7" lengthAdjust="spacingAndGlyphs">E</text>
<path d="M351,347.5 H365 A1.8,1.8 0 0 0 366.8,345.7 V335.6 Q366.8,334.3 365.7,333.6 L359.1,329.7 Q358,329.0 356.9,329.7 L350.3,333.6 Q349.2,334.3 349.2,335.6 V345.7 A1.8,1.8 0 0 0 351,347.5 Z" fill="#fff" stroke="#22a196" stroke-width="2.1" stroke-linejoin="round"/>
<text x="358" y="343.7" font-size="13" fill="#22a196" stroke="#22a196" stroke-width="0.2" font-weight="bold" text-anchor="middle" textLength="5.8" lengthAdjust="spacingAndGlyphs">E</text>
<path d="M605,347.5 H619 A1.8,1.8 0 0 0 620.8,345.7 V335.6 Q620.8,334.3 619.7,333.6 L613.1,329.7 Q612,329.0 610.9,329.7 L604.3,333.6 Q603.2,334.3 603.2,335.6 V345.7 A1.8,1.8 0 0 0 605,347.5 Z" fill="#fff" stroke="#22a196" stroke-width="2.1" stroke-linejoin="round"/>
<text x="612" y="343.7" font-size="13" fill="#22a196" stroke="#22a196" stroke-width="0.2" font-weight="bold" text-anchor="middle" textLength="5.8" lengthAdjust="spacingAndGlyphs">E</text>
<path d="M834,347.5 H848 A1.8,1.8 0 0 0 849.8,345.7 V335.6 Q849.8,334.3 848.7,333.6 L842.1,329.7 Q841,329.0 839.9,329.7 L833.3,333.6 Q832.2,334.3 832.2,335.6 V345.7 A1.8,1.8 0 0 0 834,347.5 Z" fill="#fff" stroke="#22a196" stroke-width="2.1" stroke-linejoin="round"/>
<text x="841" y="343.7" font-size="13" fill="#22a196" stroke="#22a196" stroke-width="0.2" font-weight="bold" text-anchor="middle" textLength="5.8" lengthAdjust="spacingAndGlyphs">E</text>
<circle cx="803.9" cy="338.9" r="9.5" fill="#fff" stroke="#3d6bff" stroke-width="1.9"/>
<text x="803.9" y="343.3" font-size="12" fill="#3d6bff" stroke="#3d6bff" stroke-width="0" font-weight="bold" text-anchor="middle" textLength="6.5" lengthAdjust="spacingAndGlyphs">D</text>
</g></svg></body></html>
